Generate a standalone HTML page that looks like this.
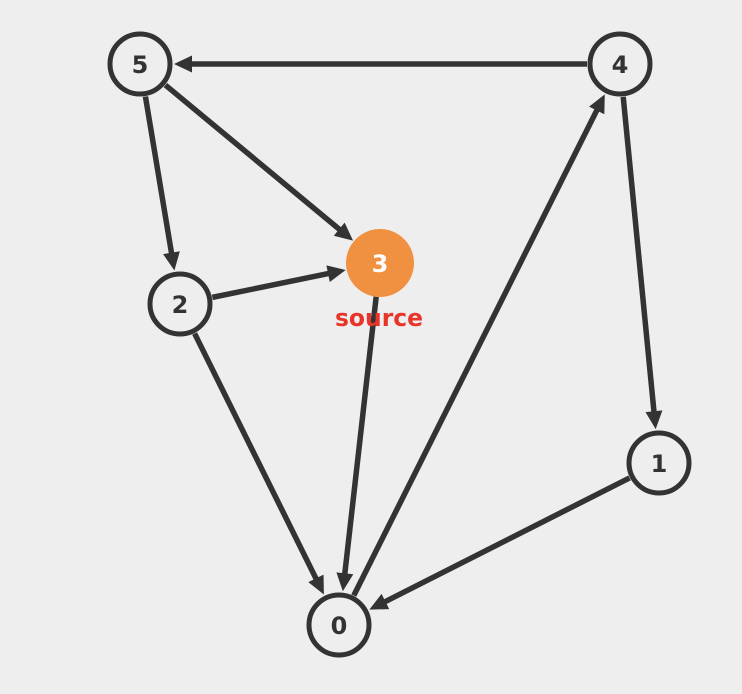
<!DOCTYPE html>
<html><head><meta charset="utf-8"><style>
html,body{margin:0;padding:0;background:#eeeeee;}
svg{display:block;}
text{font-family:"DejaVu Sans","Liberation Sans",sans-serif;font-weight:bold;}
</style></head><body>
<svg id="s" width="742" height="694" viewBox="0 0 742 694" xmlns="http://www.w3.org/2000/svg">
<g id="edges"></g>
<g stroke="#333" stroke-width="5" fill="#eeeeee">
<circle cx="140" cy="64" r="30"/>
<circle cx="620" cy="64" r="30"/>
<circle cx="180" cy="304" r="30"/>
<circle cx="659" cy="463" r="30"/>
<circle cx="339" cy="625" r="30"/>
</g>
<circle cx="380" cy="263" r="34" fill="#f09142"/>
<g font-size="24" fill="#333" text-anchor="middle">
<text x="140" y="73">5</text>
<text x="620" y="73">4</text>
<text x="180" y="313">2</text>
<text x="659" y="472">1</text>
<text x="339" y="634">0</text>
<text x="380" y="272" fill="#fff">3</text>
</g>
<text x="379" y="326" font-size="24" fill="#e8352a" text-anchor="middle" textLength="88" lengthAdjust="spacingAndGlyphs">source</text>
</svg>
<script>
var N={5:[140,64,33],4:[620,64,33],2:[180,304,33],1:[659,463,33],0:[339,625,33],3:[380,263,34]};
var E=[[4,5],[5,3],[5,2],[2,3],[3,0],[2,0],[0,4],[4,1],[1,0]];
var g=document.getElementById('edges'),h='';
E.forEach(function(e){var a=N[e[0]],b=N[e[1]];var dx=b[0]-a[0],dy=b[1]-a[1],L=Math.hypot(dx,dy),ux=dx/L,uy=dy/L;
var sx=a[0]+ux*a[2],sy=a[1]+uy*a[2],tx=b[0]-ux*(b[2]+1),ty=b[1]-uy*(b[2]+1);
var bx=tx-ux*18,by=ty-uy*18,px=-uy,py=ux;
h+='<line x1="'+sx+'" y1="'+sy+'" x2="'+(bx+ux*2)+'" y2="'+(by+uy*2)+'" stroke="#333" stroke-width="5.5"/>';
h+='<polygon fill="#333" points="'+tx+','+ty+' '+(bx+px*8.5)+','+(by+py*8.5)+' '+(bx-px*8.5)+','+(by-py*8.5)+'"/>';});
g.innerHTML=h;
</script>
</body></html>
